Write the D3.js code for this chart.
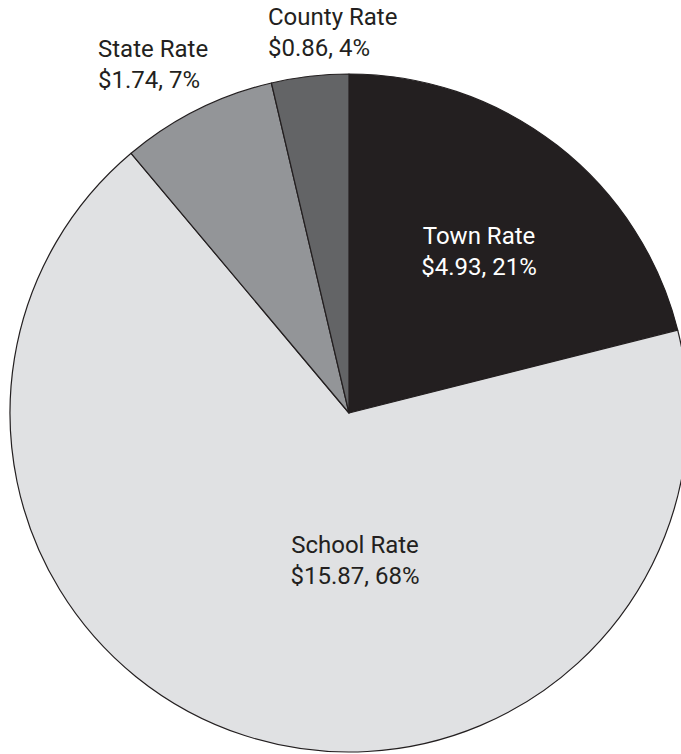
<!DOCTYPE html>
<html>
<head>
<meta charset="utf-8">
<script src="https://cdn.jsdelivr.net/npm/d3@7"></script>
<style>
  html, body { margin: 0; padding: 0; background: #fff; }
  #chart { width: 681px; height: 754px; overflow: hidden; }
  text { font-family: Roboto, "Noto Sans", sans-serif; font-size: 24px; }
</style>
</head>
<body>
<div id="chart"></div>
<script>
// tax rate components, clockwise from 12 o'clock
const categories = ["Town Rate", "School Rate", "State Rate", "County Rate"];
const rates = [4.93, 15.87, 1.74, 0.86];
const percents = ["21%", "68%", "7%", "4%"];

const colors = ["#231f20", "#e0e1e3", "#939598", "#636466"];
const textColors = ["#ffffff", "#231f20", "#231f20", "#231f20"];

// label anchor points, relative to pie centre (first line baseline)
const labelLayout = [
    {dx: 130, dy: -169, anchor: "middle"},
    {dx: 6, dy: 140, anchor: "middle"},
    {dx: -251, dy: -356, anchor: "start"},
    {dx: -81, dy: -388, anchor: "start"}
];

const width = 681, height = 754;
const cx = 349, cy = 413, radius = 339;
const lineGap = 31;

const svg = d3.select("#chart").append("svg")
    .attr("width", width).attr("height", height);

const g = svg.append("g").attr("transform", `translate(${cx},${cy})`);

const pie = d3.pie().sort(null).value(d => d.value);
const arc = d3.arc().innerRadius(0).outerRadius(radius);

const data = categories.map((c, i) => ({name: c, value: rates[i], pct: percents[i], i: i}));

g.selectAll("path.slice")
    .data(pie(data))
    .join("path")
    .attr("class", "slice")
    .attr("d", arc)
    .attr("fill", d => colors[d.data.i])
    .attr("stroke", "#231f20")
    .attr("stroke-width", 1.2)
    .attr("stroke-linejoin", "round");

const labels = g.selectAll("text.lbl")
    .data(data)
    .join("text")
    .attr("class", "lbl")
    .attr("fill", d => textColors[d.i])
    .attr("text-anchor", d => labelLayout[d.i].anchor)
    .attr("transform", d => `translate(${labelLayout[d.i].dx},${labelLayout[d.i].dy})`);

labels.append("tspan").attr("x", 0).attr("y", 0).text(d => d.name);
labels.append("tspan").attr("x", 0).attr("y", lineGap)
    .text(d => `$${d3.format(".2f")(d.value)}, ${d.pct}`);
</script>
</body>
</html>
